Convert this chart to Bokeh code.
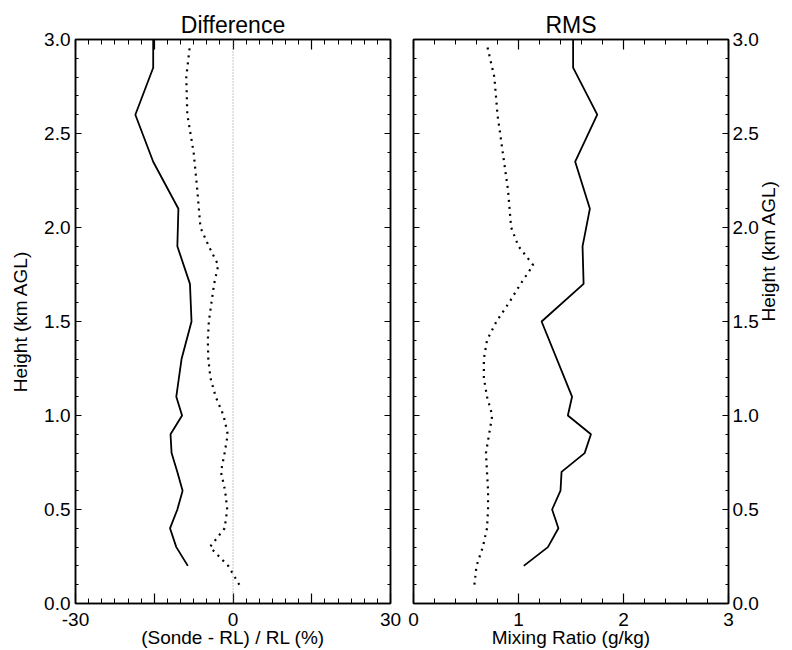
import math

from bokeh.embed import file_html
from bokeh.layouts import row
from bokeh.models import (CustomLabelingPolicy, FixedTicker, LinearAxis,
                          Range1d, Span)
from bokeh.plotting import figure
from bokeh.resources import INLINE

# ---------------------------------------------------------------------------
# Profiles versus height (km AGL)
# ---------------------------------------------------------------------------
# Difference panel, (Sonde - RL) / RL in percent
diff_solid_height = [0.2, 0.3, 0.4, 0.5, 0.6, 0.7, 0.8, 0.9, 1.0, 1.1, 1.3,
                     1.5, 1.7, 1.9, 2.1, 2.35, 2.6, 2.85, 3.0]
diff_solid_pct = [-8.6, -10.8, -12.0, -10.6, -9.6, -10.6, -11.7, -11.9, -9.7,
                  -10.8, -9.8, -7.9, -8.2, -10.6, -10.4, -15.2, -18.6, -15.2,
                  -15.2]

diff_dotted_height = [0.1, 0.2, 0.3, 0.4, 0.5, 0.6, 0.7, 0.8, 0.9, 1.0, 1.1,
                      1.2, 1.3, 1.4, 1.5, 1.6, 1.7, 1.8, 1.9, 2.0, 2.2, 2.4,
                      2.6, 2.8, 2.97]
diff_dotted_pct = [1.2, -0.9, -4.4, -1.6, -1.1, -1.5, -2.3, -1.6, -1.0, -1.8,
                   -3.3, -4.3, -4.7, -4.8, -4.6, -4.1, -3.6, -2.8, -4.6, -6.2,
                   -6.8, -7.5, -8.7, -8.9, -8.2]

# RMS panel, mixing ratio in g/kg
rms_solid_height = [0.2, 0.3, 0.4, 0.5, 0.6, 0.7, 0.8, 0.9, 1.0, 1.1, 1.5,
                    1.7, 1.9, 2.1, 2.35, 2.6, 2.85, 3.0]
rms_solid = [1.05, 1.28, 1.38, 1.32, 1.40, 1.41, 1.63, 1.69, 1.47, 1.51, 1.22,
             1.62, 1.61, 1.68, 1.54, 1.75, 1.52, 1.52]

rms_dotted_height = [0.1, 0.2, 0.3, 0.4, 0.5, 0.6, 0.7, 0.8, 0.9, 1.0, 1.1,
                     1.2, 1.3, 1.4, 1.5, 1.6, 1.7, 1.8, 1.9, 2.0, 2.2, 2.4,
                     2.6, 2.8, 2.97]
rms_dotted = [0.58, 0.60, 0.66, 0.70, 0.71, 0.71, 0.70, 0.69, 0.72, 0.75,
              0.70, 0.67, 0.67, 0.70, 0.79, 0.91, 1.02, 1.14, 1.00, 0.93,
              0.90, 0.85, 0.80, 0.77, 0.70]

# Axis ticks
height_ticks = [0.0, 0.5, 1.0, 1.5, 2.0, 2.5, 3.0]
height_tick_labels = ["0.0", "0.5", "1.0", "1.5", "2.0", "2.5", "3.0"]
height_minor = [round(0.1 * i, 1) for i in range(31)]

# long ticks every 15 %, labels only every 30 %
diff_ticks = [-30, -15, 0, 15, 30]
diff_tick_labels = ["-30", "-15", "0", "15", "30"]
diff_minor = [-30 + 2.5 * i for i in range(25)]

rms_ticks = [0, 1, 2, 3]
rms_tick_labels = ["0", "1", "2", "3"]
rms_minor = [round(0.2 * i, 1) for i in range(16)]

FONT = "Liberation Sans"
TICK_FONT = "19px"
LABEL_FONT = "19px"
TITLE_FONT = "23px"
H = 650

# label filters: draw none, or every second major label
NO_LABELS = "return []"
EVEN_LABELS = "for (let i = 0; i < indices.size; i += 2) { yield i }"


def add_axis(p, side, ticks, labels, minor, major_len, minor_len,
             show_labels=False, axis_label=None, label_standoff=0,
             tick_standoff=5, policy=None):
    ax = LinearAxis(ticker=FixedTicker(ticks=ticks, minor_ticks=minor))
    ax.axis_line_color = "black"
    ax.axis_line_width = 1.5
    ax.major_tick_line_color = "black"
    ax.major_tick_line_width = 1.2
    ax.minor_tick_line_color = "black"
    ax.minor_tick_line_width = 1.0
    ax.major_tick_in = major_len
    ax.major_tick_out = 0
    ax.minor_tick_in = minor_len
    ax.minor_tick_out = 0
    ax.major_label_overrides = {t: l for t, l in zip(ticks, labels)}
    ax.major_label_text_font = FONT
    ax.major_label_text_color = "black"
    if show_labels:
        ax.major_label_text_font_size = TICK_FONT
        ax.major_label_standoff = tick_standoff
        if policy:
            ax.major_label_policy = CustomLabelingPolicy(code=policy)
    else:
        # mirrored tick marks only
        ax.major_label_text_font_size = "0px"
        ax.major_label_standoff = 0
        ax.major_label_policy = CustomLabelingPolicy(code=NO_LABELS)
    if axis_label:
        ax.axis_label = axis_label
        ax.axis_label_text_font = FONT
        ax.axis_label_text_font_size = LABEL_FONT
        ax.axis_label_text_font_style = "normal"
        ax.axis_label_text_color = "black"
        ax.axis_label_standoff = label_standoff
    p.add_layout(ax, side)
    return ax


def make_panel(title, x_start, x_end, width, border_left, border_right):
    p = figure(width=width, height=H,
               x_range=Range1d(x_start, x_end), y_range=Range1d(0, 3),
               x_axis_location=None, y_axis_location=None,
               toolbar_location=None, output_backend="svg",
               min_border_left=border_left, min_border_right=border_right,
               min_border_top=39, min_border_bottom=47,
               title=title)
    p.grid.visible = False
    p.outline_line_color = "black"
    p.outline_line_width = 1.5
    p.background_fill_color = "white"
    p.border_fill_color = "white"
    p.title.align = "center"
    p.title.text_font = FONT
    p.title.text_font_size = TITLE_FONT
    p.title.text_font_style = "normal"
    p.title.text_color = "black"
    p.title.standoff = 3
    return p


# Left panel: relative difference
p1 = make_panel("Difference", -30, 30, 401, 75, 11)
add_axis(p1, "below", diff_ticks, diff_tick_labels, diff_minor, 10, 5,
         show_labels=True, axis_label="(Sonde - RL) / RL (%)",
         label_standoff=-2, tick_standoff=9, policy=EVEN_LABELS)
add_axis(p1, "above", diff_ticks, diff_tick_labels, diff_minor, 10, 5)
add_axis(p1, "left", height_ticks, height_tick_labels, height_minor, 6, 3,
         show_labels=True, axis_label="Height (km AGL)", label_standoff=10)
add_axis(p1, "right", height_ticks, height_tick_labels, height_minor, 6, 3)

p1.add_layout(Span(location=0, dimension="height", line_color="#8a8a8a",
                   line_width=1, line_dash="1 2"))
p1.line(diff_solid_pct, diff_solid_height, line_color="black", line_width=1.8)
p1.line(diff_dotted_pct, diff_dotted_height, line_color="black", line_width=2.2,
        line_dash="2 5")

# Right panel: RMS of mixing ratio
p2 = make_panel("RMS", 0, 3, 391, 12, 63)
add_axis(p2, "below", rms_ticks, rms_tick_labels, rms_minor, 10, 5,
         show_labels=True, axis_label="Mixing Ratio (g/kg)",
         label_standoff=-2, tick_standoff=9)
add_axis(p2, "above", rms_ticks, rms_tick_labels, rms_minor, 10, 5)
add_axis(p2, "left", height_ticks, height_tick_labels, height_minor, 6, 3)
right_ax = add_axis(p2, "right", height_ticks, height_tick_labels, height_minor,
                    6, 3, show_labels=True, axis_label="Height (km AGL)",
                    label_standoff=7, tick_standoff=4)
if "axis_label_orientation" in right_ax.properties():
    right_ax.axis_label_orientation = math.pi / 2

p2.line(rms_solid, rms_solid_height, line_color="black", line_width=1.8)
p2.line(rms_dotted, rms_dotted_height, line_color="black", line_width=2.2,
        line_dash="2 5")

layout = row(p1, p2)
open("out.html", "w").write(file_html(layout, INLINE))
